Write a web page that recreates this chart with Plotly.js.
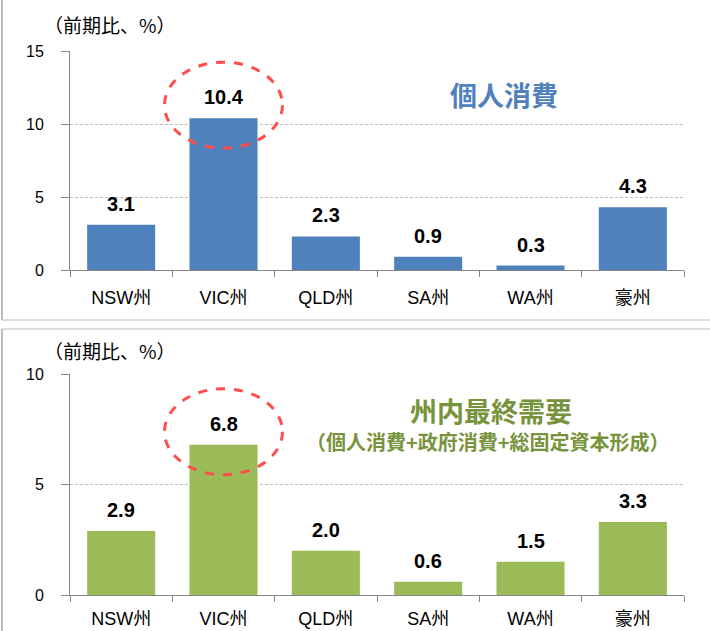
<!DOCTYPE html>
<html>
<head>
<meta charset="utf-8">
<script src="https://cdn.plot.ly/plotly-3.0.1.min.js"></script>
<style>html,body{margin:0;padding:0;background:#fff;}#chart{width:710px;height:631px;}</style>
</head>
<body>
<div id="chart"></div>
<script>
// ---- data ----
const categories = ["NSW州", "VIC州", "QLD州", "SA州", "WA州", "豪州"];
const consumption = [3.1, 10.4, 2.3, 0.9, 0.3, 4.3];
const finalDemand = [2.9, 6.8, 2.0, 0.6, 1.5, 3.3];
const unitLabel = "（前期比、%）";
const title1 = "個人消費";
const title2 = "州内最終需要";
const subtitle2 = "（個人消費+政府消費+総固定資本形成）";
const highlightCategory = "VIC州";

const FONT = "Liberation Sans, Arial, Noto Sans CJK JP, sans-serif";
const JP = "Noto Sans CJK JP, sans-serif";
const blue = "#4F81BD", green = "#9BBB59";

const traces = [
  {type: "bar", x: categories, y: consumption, marker: {color: blue}, xaxis: "x", yaxis: "y", hoverinfo: "none", width: 0.665},
  {type: "bar", x: categories, y: finalDemand, marker: {color: green}, xaxis: "x2", yaxis: "y2", hoverinfo: "none", width: 0.665}
];

function valueLabels(vals, xr, yr) {
  return vals.map((v, i) => ({
    x: categories[i], y: v, xref: xr, yref: yr, text: "<b>" + v.toFixed(1) + "</b>",
    showarrow: false, yanchor: "bottom", yshift: 8,
    font: {family: FONT, size: 20, color: "#000"}
  }));
}

function ellipse(vals, xr, yr) {
  const i = categories.indexOf(highlightCategory);
  return {
    type: "circle", xref: xr, yref: yr,
    xsizemode: "pixel", ysizemode: "pixel",
    xanchor: i, yanchor: vals[i],
    x0: -59, x1: 59, y0: -30, y1: 56,
    line: {color: "#FF4D4D", width: 3, dash: "dash"}
  };
}

const axisX = (standoff) => ({
  type: "category", showline: true, linecolor: "#868686", linewidth: 1,
  ticks: "outside", ticklen: 6, tickcolor: "#868686", tickson: "boundaries",
  showgrid: false, tickfont: {family: FONT, size: 18, color: "#000"},
  ticklabelstandoff: standoff, fixedrange: true
});
const axisY = (range, domain) => ({
  range: range, dtick: 5, domain: domain, showline: true, linecolor: "#868686", linewidth: 1,
  ticks: "outside", ticklen: 8, tickcolor: "#868686",
  showgrid: true, gridcolor: "#BFBFBF", griddash: "3px,2px", gridwidth: 1,
  zeroline: false, tickfont: {family: FONT, size: 16, color: "#000"},
  ticklabelstandoff: 14, fixedrange: true
});

const px = x => (x - 70) / 614;
const py = y => 1 - y / 631;

const layout = {
  width: 710, height: 631,
  margin: {l: 70, r: 26, t: 0, b: 0},
  paper_bgcolor: "#fff", plot_bgcolor: "#fff",
  showlegend: false, bargap: 0.335,
  xaxis: Object.assign(axisX(11), {anchor: "y", domain: [0, 1]}),
  yaxis: Object.assign(axisY([0, 15], [py(270), py(51)]), {anchor: "x"}),
  xaxis2: Object.assign(axisX(7), {anchor: "y2", domain: [0, 1]}),
  yaxis2: Object.assign(axisY([0, 10], [py(595), py(374)]), {anchor: "x2"}),
  annotations: [
    ...valueLabels(consumption, "x", "y"),
    ...valueLabels(finalDemand, "x2", "y2"),
    {xref: "paper", yref: "paper", x: px(42), y: py(25), xanchor: "left", yanchor: "middle", showarrow: false,
     text: unitLabel, font: {family: JP, size: 19, color: "#000"}},
    {xref: "paper", yref: "paper", x: px(42), y: py(350), xanchor: "left", yanchor: "middle", showarrow: false,
     text: unitLabel, font: {family: JP, size: 19, color: "#000"}},
    {xref: "paper", yref: "paper", x: px(504), y: py(95), xanchor: "center", yanchor: "middle", showarrow: false,
     text: "<b>" + title1 + "</b>", font: {family: JP, size: 27, color: "#4F81BD"}},
    {xref: "paper", yref: "paper", x: px(491), y: py(410), xanchor: "center", yanchor: "middle", showarrow: false,
     text: "<b>" + title2 + "</b>", font: {family: JP, size: 27, color: "#77933C"}},
    {xref: "paper", yref: "paper", x: px(488), y: py(441), xanchor: "center", yanchor: "middle", showarrow: false,
     text: "<b>" + subtitle2 + "</b>", font: {family: JP, size: 20, color: "#77933C"}}
  ],
  shapes: [
    ellipse(consumption, "x", "y"),
    ellipse(finalDemand, "x2", "y2"),
    {type: "line", xref: "paper", yref: "paper", x0: px(2), x1: px(2), y0: py(0), y1: py(320), line: {color: "#A6A6A6", width: 1.5}},
    {type: "line", xref: "paper", yref: "paper", x0: px(2), x1: px(710), y0: py(320), y1: py(320), line: {color: "#D0D0D0", width: 1.5}},
    {type: "line", xref: "paper", yref: "paper", x0: px(2), x1: px(710), y0: py(329), y1: py(329), line: {color: "#D0D0D0", width: 1.5}},
    {type: "line", xref: "paper", yref: "paper", x0: px(2), x1: px(2), y0: py(329), y1: py(631), line: {color: "#A6A6A6", width: 1.5}}
  ]
};

Plotly.newPlot("chart", traces, layout, {displayModeBar: false, staticPlot: true});
</script>
</body>
</html>
